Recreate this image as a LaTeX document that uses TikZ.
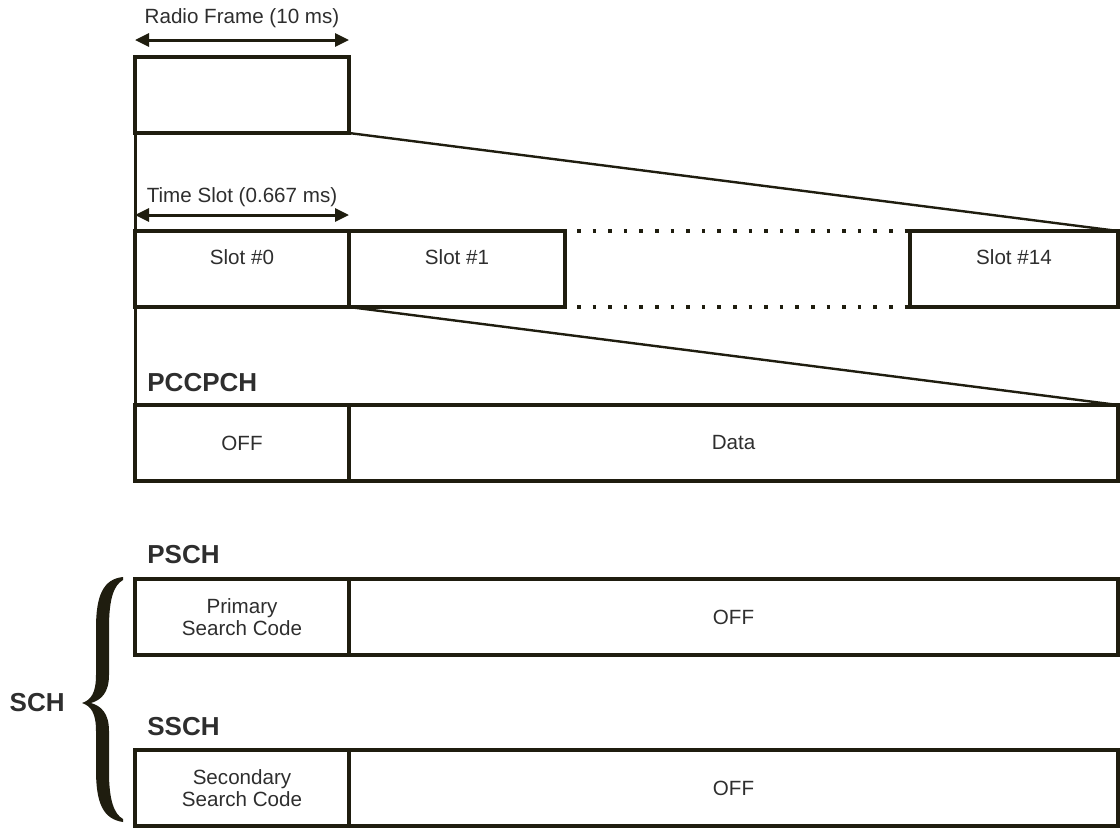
\documentclass[tikz,border=0pt]{standalone}
\usepackage{fontspec}
\setsansfont{Liberation Sans}
\usepackage{xcolor}
\definecolor{ink}{HTML}{1F1D0F}
\definecolor{inktext}{HTML}{2E2E2E}
\usetikzlibrary{positioning,arrows.meta}

\begin{document}
\begin{tikzpicture}[
  x=0.5pt,y=-0.5pt,
  font=\sffamily\fontsize{10.3pt}{11pt}\selectfont,
  cellbox/.style={draw=ink,line width=2.2pt,minimum height=38pt,outer sep=0pt,
    inner sep=0pt,align=center,text=inktext},
  slotbox/.style={cellbox,text height=7.4pt,text depth=11.5pt},
  chlabel/.style={font=\sffamily\bfseries\fontsize{13pt}{15pt}\selectfont,text=inktext,inner sep=0pt},
  dim/.style={{Triangle[length=7pt,width=6.5pt]}-{Triangle[length=7pt,width=6.5pt]},line width=1.5pt,ink},
  zoomline/.style={line width=1.2pt,ink},
  leftline/.style={line width=1.5pt,ink},
  dotrow/.style={line width=1.8pt,ink,dash pattern=on 1.8pt off 6pt,dash phase=1.8pt}
]
\useasboundingbox (0,0) rectangle (1120,827);

% radio frame
\node[cellbox,anchor=north west,minimum width=107pt] (radio) at (135,57) {};
\draw[dim] ([yshift=8.5pt]radio.north west) -- ([yshift=8.5pt]radio.north east)
  node[midway,anchor=base,yshift=8.5pt,text=inktext]{Radio Frame (10 ms)};

% time slots
\node[slotbox,anchor=north west,minimum width=107pt] (s0) at (135,231) {Slot \#0};
\node[slotbox,right=0pt of s0,minimum width=108pt] (s1) {Slot \#1};
\node[slotbox,anchor=north east,minimum width=104pt] (s14) at (1118,231) {Slot \#14};
\draw[dim] ([yshift=8pt]s0.north west) -- ([yshift=8pt]s0.north east)
  node[midway,anchor=base,yshift=6.5pt,text=inktext]{Time Slot (0.667 ms)};
\draw[dotrow] (s1.north east) -- (s14.north west);
\draw[dotrow] (s1.south east) -- (s14.south west);

% PCCPCH
\node[cellbox,anchor=north west,minimum width=107pt] (pcoff) at (135,405) {OFF};
\node[cellbox,right=0pt of pcoff,minimum width=384.5pt] (pcdata) {Data};
\node[chlabel,above right=6.5pt and 6pt of pcoff.north west] (pccpch) {PCCPCH};

% PSCH
\node[cellbox,anchor=north west,minimum width=107pt] (pscode) at (135,579) {Primary\\Search Code};
\node[cellbox,right=0pt of pscode,minimum width=384.5pt] (psoff) {OFF};
\node[chlabel,above right=7.5pt and 6pt of pscode.north west] (psch) {PSCH};

% SSCH
\node[cellbox,anchor=north west,minimum width=107pt] (sscode) at (135,750) {Secondary\\Search Code};
\node[cellbox,right=0pt of sscode,minimum width=384.5pt] (ssoff) {OFF};
\node[chlabel,above right=7pt and 6pt of sscode.north west] (ssch) {SSCH};

% zoom lines
\draw[leftline] (radio.south west) -- (s0.north west);
\draw[leftline] (s0.south west) -- (pcoff.north west);
\draw[zoomline] (radio.south east) -- (s14.north east);
\draw[zoomline] (s0.south east) -- (pcdata.north east);

% SCH brace
\coordinate (bracetip) at (82,703);
\fill[ink] (123,577) .. controls (103,579) and (96,596) .. (96,628) -- (96,675)
  .. controls (96,693) and (91,700) .. (bracetip)
  .. controls (91,706) and (96,713) .. (96,731) -- (96,770)
  .. controls (96,803) and (103,819) .. (123,822) -- (123,819)
  .. controls (114,814) and (109,800) .. (109,772) -- (109,731)
  .. controls (109,713) and (101,706) .. (91,703)
  .. controls (101,700) and (109,693) .. (109,675) -- (109,628)
  .. controls (109,598) and (114,585) .. (123,580) -- cycle;
\node[chlabel,left=8.5pt of bracetip] (sch) {SCH};

\end{tikzpicture}
\end{document}
